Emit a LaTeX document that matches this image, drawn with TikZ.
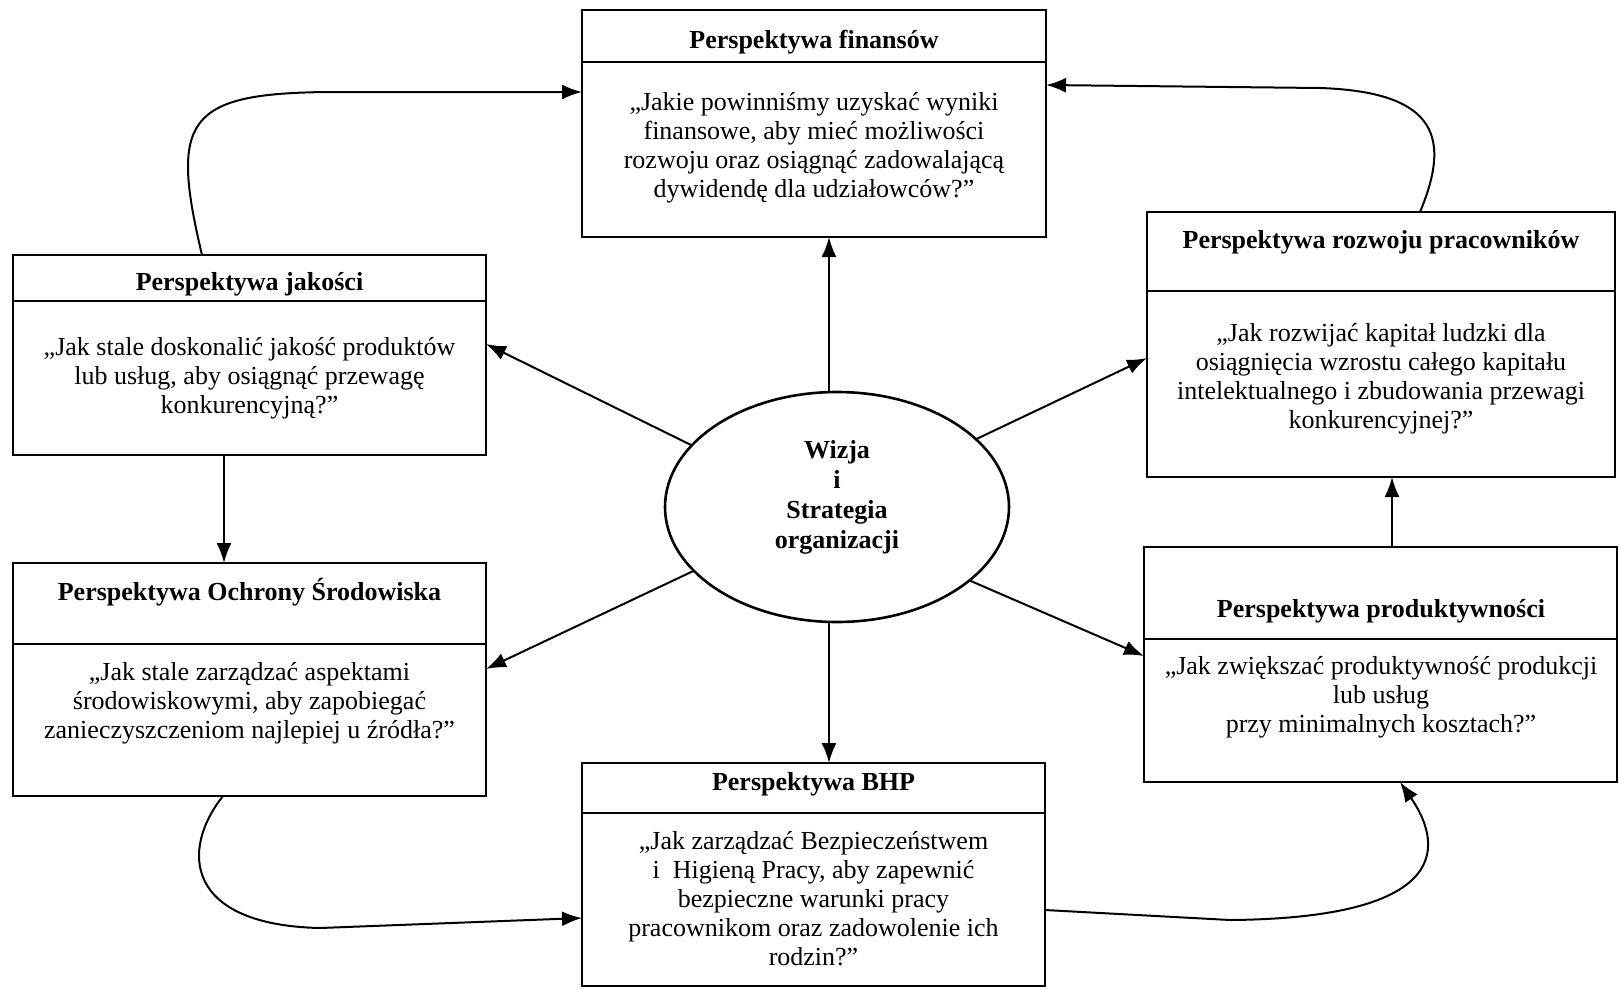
\documentclass[tikz,border=0pt]{standalone}
\usepackage{fontspec}
\setmainfont{Liberation Serif}
\usetikzlibrary{arrows.meta,shapes.geometric}

\begin{document}
\begin{tikzpicture}[x=1pt,y=-1pt,
  panel/.style={draw, rectangle, line width=2.6pt, inner sep=0pt, outer sep=0pt},
  hline/.style={line width=2.6pt},
  heading/.style={font=\fontsize{26}{29}\selectfont\bfseries, anchor=base, inner sep=0pt},
  question/.style={font=\fontsize{26}{29}\selectfont, align=center, anchor=base, inner sep=0pt},
  link/.style={line width=2pt, -{Latex[length=20pt,width=15pt]}}]

\useasboundingbox (0,0) rectangle (1619,989);

% perspective panels
\node[panel, minimum width=464pt, minimum height=227pt] (fin) at (814,123.5) {};
\node[panel, minimum width=473pt, minimum height=200pt] (jak) at (249.5,355) {};
\node[panel, minimum width=468pt, minimum height=265pt] (roz) at (1381,344.5) {};
\node[panel, minimum width=473pt, minimum height=233pt] (och) at (249.5,679.5) {};
\node[panel, minimum width=473pt, minimum height=235pt] (pro) at (1380.5,664.5) {};
\node[panel, minimum width=463pt, minimum height=223pt] (bhp) at (813.5,874.5) {};

% header separators
\draw[hline] (fin.west |- 0,62)  -- (fin.east |- 0,62);
\draw[hline] (jak.west |- 0,301) -- (jak.east |- 0,301);
\draw[hline] (roz.west |- 0,291) -- (roz.east |- 0,291);
\draw[hline] (och.west |- 0,644) -- (och.east |- 0,644);
\draw[hline] (pro.west |- 0,639) -- (pro.east |- 0,639);
\draw[hline] (bhp.west |- 0,813) -- (bhp.east |- 0,813);

% headings
\node[heading] (finH) at (814,48)  {Perspektywa finansów};
\node[heading] (jakH) at (249.5,290) {Perspektywa jakości};
\node[heading] (rozH) at (1381,248) {Perspektywa rozwoju pracowników};
\node[heading] (ochH) at (249.5,600) {Perspektywa Ochrony Środowiska};
\node[heading] (proH) at (1381,617) {Perspektywa produktywności};
\node[heading] (bhpH) at (813.5,790) {Perspektywa BHP};

% questions (base anchor sits on the last line)
\node[question] (finQ) at (814,197) {„Jakie powinniśmy uzyskać wyniki\\finansowe, aby mieć możliwości\\rozwoju oraz osiągnąć zadowalającą\\dywidendę dla udziałowców?”};
\node[question] (jakQ) at (249.5,413) {„Jak stale doskonalić jakość produktów\\lub usług, aby osiągnąć przewagę\\konkurencyjną?”};
\node[question] (rozQ) at (1381,428) {„Jak rozwijać kapitał ludzki dla\\osiągnięcia wzrostu całego kapitału\\intelektualnego i zbudowania przewagi\\konkurencyjnej?”};
\node[question] (ochQ) at (249.5,738) {„Jak stale zarządzać aspektami\\środowiskowymi, aby zapobiegać\\zanieczyszczeniom najlepiej u źródła?”};
\node[question] (proQ) at (1381,732) {„Jak zwiększać produktywność produkcji\\lub usług\\przy minimalnych kosztach?”};
\node[question] (bhpQ) at (813.5,965) {„Jak zarządzać Bezpieczeństwem\\i~~Higieną Pracy, aby zapewnić\\bezpieczne warunki pracy\\pracownikom oraz zadowolenie ich\\rodzin?”};

% central ellipse
\node[draw, ellipse, line width=2.6pt, minimum width=344pt, minimum height=230pt,
      inner sep=0pt, outer sep=0pt] (ell) at (837,507) {};
\node[font=\fontsize{26}{30}\selectfont\bfseries, align=center, anchor=base, inner sep=0pt]
      (ellT) at (837,548) {Wizja\\i\\Strategia\\organizacji};

% arrows from the centre
\draw[link] (ell.94)  -- (ell.94 |- fin.south);
\draw[link] (ell.266) -- (ell.266 |- bhp.north);
\draw[link] (ell.157) -- (jak.east |- 0,344);
\draw[link] (ell.204) -- (och.east |- 0,669);
\draw[link] (ell.26)  -- (roz.west |- 0,358);
\draw[link] (ell.-29) -- (pro.west |- 0,656);

% vertical links between side panels
\draw[link] (jak.south -| 224,0) -- (och.north -| 224,0);
\draw[link] (pro.north -| 1392,0) -- (roz.south -| 1392,0);

% curved loop around the panels
\draw[link] (jak.north -| 202,0) .. controls (170,120) and (185,93) .. (330,92) -- (fin.west |- 0,92);
\draw[link] (roz.north -| 1420,0) .. controls (1450,140) and (1440,92) .. (1320,88) -- (fin.east |- 0,85);
\draw[link] (och.south -| 223,0) .. controls (180,850) and (185,925) .. (320,928) -- (bhp.west |- 0,918);
\draw[link] (bhp.east |- 0,910) -- (1230,920) .. controls (1460,918) and (1440,840) .. (pro.south -| 1400,0);

\end{tikzpicture}
\end{document}
